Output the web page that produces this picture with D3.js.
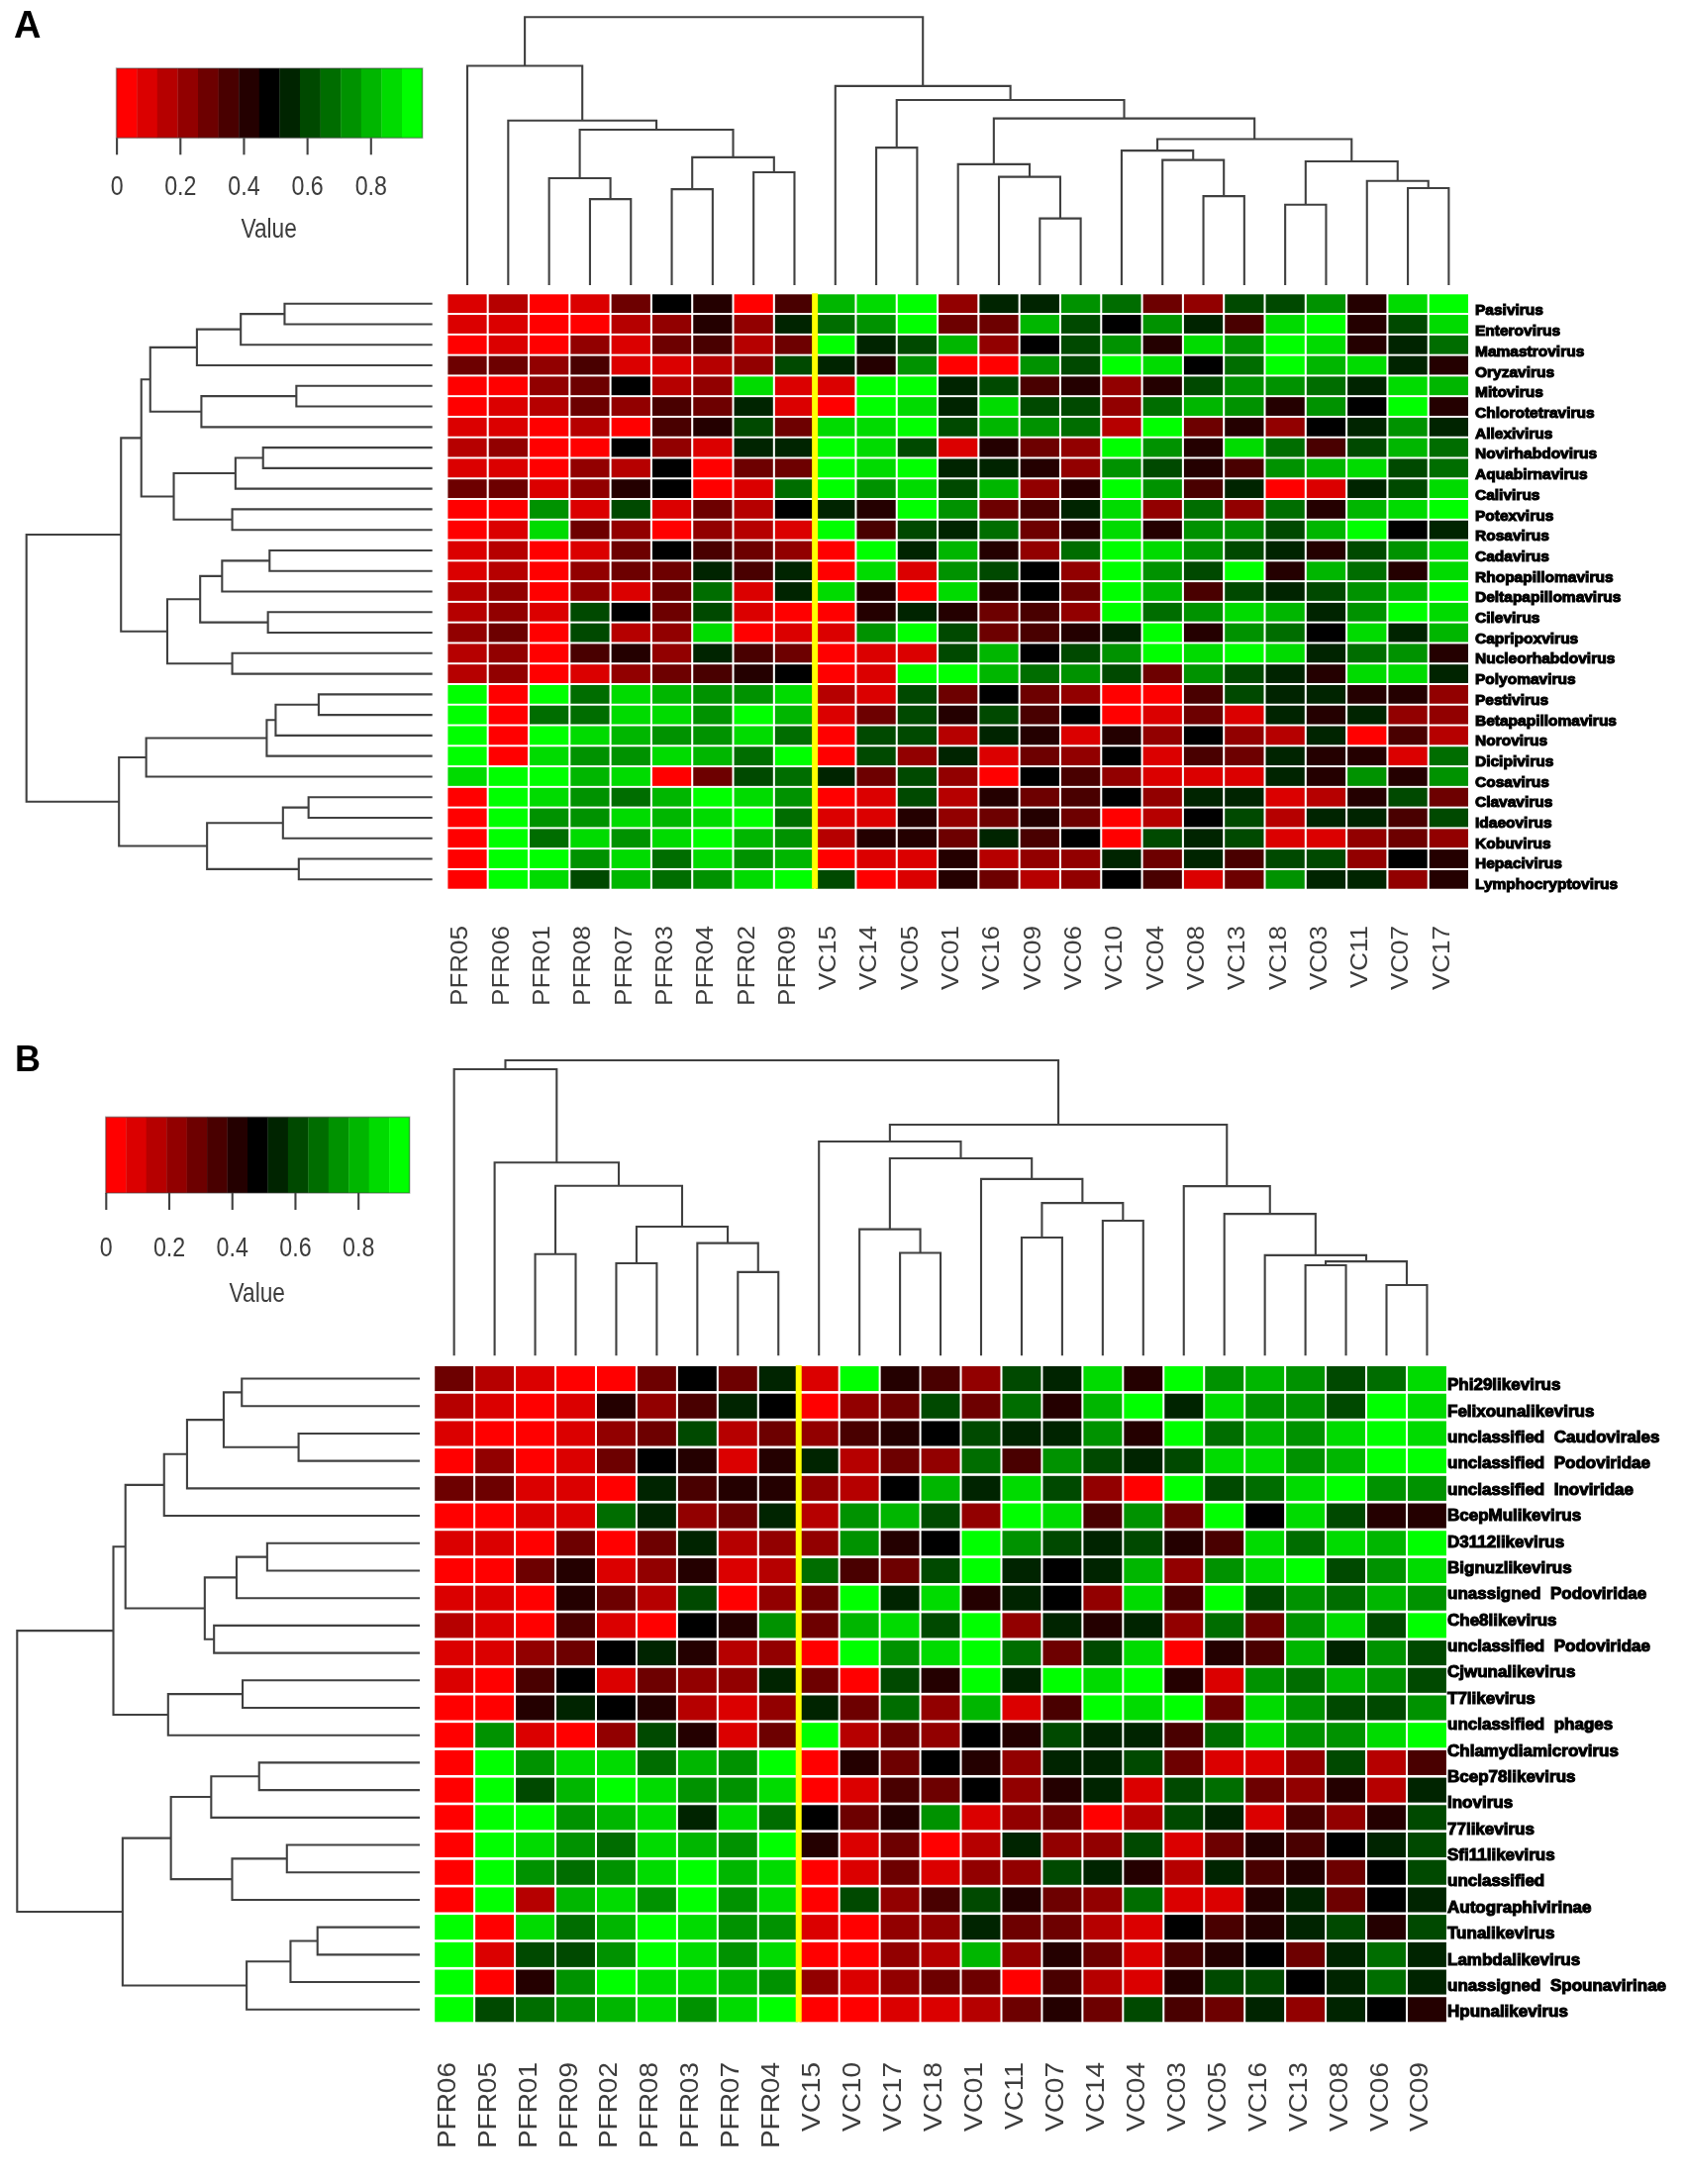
<!DOCTYPE html>
<html>
<head>
<meta charset="utf-8">
<script src="https://cdnjs.cloudflare.com/ajax/libs/d3/7.8.5/d3.min.js"></script>
<style>
    body { margin: 0; background: #fff; }
    svg { display: block; filter: blur(0.55px); }
</style>
</head>
<body>
<div id="main"></div>
<script>
// leaf marker for the nested dendrogram arrays: [height, left, right]
const _ = 0;

// ---- panel A ----
const colsA = ["PFR05", "PFR06", "PFR01", "PFR08", "PFR07", "PFR03", "PFR04", "PFR02", "PFR09",
    "VC15", "VC14", "VC05", "VC01", "VC16", "VC09", "VC06", "VC10", "VC04", "VC08", "VC13", "VC18", "VC03", "VC11", "VC07", "VC17"];

const rowLabelsA = ["Pasivirus", "Enterovirus", "Mamastrovirus", "Oryzavirus", "Mitovirus", "Chlorotetravirus", "Allexivirus",
    "Novirhabdovirus", "Aquabirnavirus", "Calivirus", "Potexvirus", "Rosavirus", "Cadavirus", "Rhopapillomavirus",
    "Deltapapillomavirus", "Cilevirus", "Capripoxvirus", "Nucleorhabdovirus", "Polyomavirus", "Pestivirus",
    "Betapapillomavirus", "Norovirus", "Dicipivirus", "Cosavirus", "Clavavirus", "Idaeovirus", "Kobuvirus", "Hepacivirus",
    "Lymphocryptovirus"];

// colour key bin (0 red ... 7 black ... 14 green) read for every cell
const heatA = [
    [1, 2, 0, 1, 4, 7, 6, 0, 5, 12, 13, 14, 3, 8, 8, 11, 10, 4, 3, 9, 9, 11, 6, 13, 14],
    [1, 1, 0, 0, 2, 3, 6, 3, 8, 10, 11, 14, 4, 4, 12, 9, 7, 11, 8, 5, 13, 14, 6, 9, 13],
    [0, 1, 0, 3, 1, 4, 5, 2, 4, 14, 8, 9, 12, 3, 7, 9, 11, 6, 13, 11, 14, 13, 6, 8, 10],
    [4, 4, 3, 5, 1, 1, 2, 3, 9, 8, 6, 11, 0, 0, 11, 9, 14, 13, 7, 10, 14, 12, 13, 8, 6],
    [0, 0, 3, 4, 7, 2, 3, 13, 1, 1, 14, 14, 8, 9, 5, 6, 3, 6, 9, 11, 11, 10, 8, 13, 12],
    [0, 1, 2, 4, 3, 5, 4, 8, 1, 0, 14, 13, 8, 13, 9, 9, 3, 10, 12, 11, 6, 11, 7, 14, 6],
    [1, 1, 0, 2, 0, 5, 6, 9, 4, 13, 13, 14, 9, 12, 11, 10, 2, 14, 4, 6, 3, 7, 8, 11, 8],
    [2, 3, 0, 0, 7, 3, 1, 8, 8, 14, 13, 9, 1, 6, 4, 3, 14, 11, 6, 13, 10, 5, 9, 12, 10],
    [1, 1, 0, 3, 2, 7, 0, 4, 4, 14, 13, 14, 8, 8, 6, 3, 11, 9, 6, 5, 11, 12, 13, 9, 10],
    [4, 4, 1, 3, 6, 7, 0, 1, 10, 14, 11, 13, 9, 12, 3, 6, 14, 11, 5, 8, 0, 1, 8, 9, 13],
    [0, 0, 11, 1, 9, 1, 4, 2, 7, 8, 6, 14, 11, 4, 5, 8, 13, 3, 10, 3, 10, 6, 12, 13, 14],
    [0, 1, 13, 4, 3, 0, 3, 2, 1, 14, 5, 9, 8, 10, 4, 6, 13, 6, 11, 11, 9, 12, 14, 7, 8],
    [1, 2, 0, 1, 4, 7, 5, 4, 3, 0, 14, 8, 12, 6, 3, 10, 14, 13, 11, 9, 8, 6, 9, 11, 13],
    [1, 2, 0, 3, 4, 4, 8, 5, 8, 0, 13, 1, 11, 9, 7, 3, 14, 11, 9, 14, 6, 12, 10, 6, 13],
    [2, 3, 0, 3, 1, 4, 10, 1, 8, 13, 6, 0, 13, 6, 7, 4, 14, 12, 5, 9, 8, 9, 11, 12, 14],
    [2, 3, 1, 9, 7, 4, 9, 1, 0, 0, 6, 8, 6, 4, 5, 3, 14, 10, 11, 13, 12, 8, 11, 14, 13],
    [3, 4, 0, 9, 2, 3, 13, 0, 1, 1, 11, 14, 9, 4, 5, 6, 8, 14, 6, 11, 10, 7, 13, 8, 12],
    [2, 3, 0, 5, 6, 3, 8, 5, 4, 0, 1, 1, 9, 12, 7, 9, 11, 14, 13, 14, 13, 8, 10, 11, 6],
    [2, 3, 0, 1, 3, 4, 5, 6, 7, 0, 1, 14, 14, 12, 10, 11, 9, 4, 11, 9, 8, 6, 13, 13, 8],
    [14, 0, 14, 10, 13, 12, 11, 11, 13, 2, 1, 9, 4, 7, 4, 3, 0, 0, 5, 9, 8, 8, 6, 6, 3],
    [14, 0, 10, 10, 13, 13, 11, 14, 12, 1, 4, 9, 6, 9, 5, 7, 0, 1, 4, 1, 8, 6, 8, 3, 3],
    [14, 0, 14, 13, 12, 11, 11, 13, 10, 0, 9, 9, 2, 8, 6, 1, 6, 3, 7, 3, 2, 8, 0, 5, 2],
    [14, 0, 13, 11, 11, 13, 12, 10, 14, 0, 9, 3, 8, 1, 4, 3, 7, 1, 5, 4, 8, 6, 6, 1, 10],
    [13, 14, 14, 12, 13, 0, 4, 9, 10, 8, 4, 9, 3, 0, 7, 5, 3, 1, 1, 1, 8, 6, 11, 6, 11],
    [0, 14, 13, 11, 10, 12, 14, 13, 11, 0, 1, 9, 2, 6, 4, 5, 7, 3, 8, 8, 1, 2, 6, 9, 4],
    [0, 14, 11, 11, 13, 12, 13, 14, 10, 1, 1, 6, 3, 4, 6, 4, 0, 2, 7, 9, 2, 8, 8, 5, 9],
    [0, 14, 10, 13, 11, 13, 14, 12, 11, 2, 6, 6, 4, 8, 5, 7, 0, 9, 8, 9, 1, 1, 3, 4, 3],
    [0, 14, 14, 11, 13, 10, 13, 11, 12, 0, 1, 1, 6, 2, 3, 3, 8, 4, 8, 5, 9, 9, 3, 7, 6],
    [0, 14, 13, 9, 12, 10, 11, 13, 14, 9, 0, 1, 6, 4, 2, 3, 7, 5, 1, 4, 11, 8, 8, 3, 6],
];

const colTreeA = [1.0,
    [.818, _, [.614, _, [.580,
        [.399, _, [.321, _, _]],
        [.477, [.358, _, _], [.421, _, _]]]]],
    [.743, _, [.691, [.513, _, _],
        [.622,
            [.451, _, [.404, _, [.249, _, _]]],
            [.545,
                [.502, _, [.467, _, [.332, _, _]]],
                [.462, [.300, _, _], [.389, _, [.362, _, _]]]]]]]];

const rowTreeA = [1.0,
    [.767,
        [.717,
            [.695,
                [.580, [.472, [.364, _, _], _], _],
                [.569, [.335, _, _], _]],
            [.637,
                [.485, [.417, _, _], _],
                [.493, _, _]]],
        [.653,
            [.572,
                [.518, [.401, _, _], _],
                [.405, _, _]],
            [.493, _, _]]],
    [.772,
        [.705,
            [.408, [.386, [.280, _, _], _], _],
            _],
        [.555,
            [.368, [.305, _, _], _],
            [.329, _, _]]]];

// ---- panel B ----
const colsB = ["PFR06", "PFR05", "PFR01", "PFR09", "PFR02", "PFR08", "PFR03", "PFR07", "PFR04",
    "VC15", "VC10", "VC17", "VC18", "VC01", "VC11", "VC07", "VC14", "VC04", "VC03", "VC05", "VC16", "VC13", "VC08", "VC06", "VC09"];

// 25 labels next to 24 rows, the label column does not line up with the rows in the figure
const rowLabelsB = ["Phi29likevirus", "Felixounalikevirus", "unclassified  Caudovirales", "unclassified  Podoviridae",
    "unclassified  Inoviridae", "BcepMulikevirus", "D3112likevirus", "Bignuzlikevirus", "unassigned  Podoviridae",
    "Che8likevirus", "unclassified  Podoviridae", "Cjwunalikevirus", "T7likevirus", "unclassified  phages",
    "Chlamydiamicrovirus", "Bcep78likevirus", "Inovirus", "77likevirus", "Sfi11likevirus", "unclassified",
    "Autographivirinae", "Tunalikevirus", "Lambdalikevirus", "unassigned  Spounavirinae", "Hpunalikevirus"];

const heatB = [
    [4, 2, 1, 0, 0, 4, 7, 4, 8, 1, 14, 6, 5, 3, 9, 8, 13, 6, 14, 11, 12, 11, 9, 10, 13],
    [2, 1, 0, 1, 6, 3, 5, 8, 7, 0, 3, 4, 9, 4, 10, 6, 12, 14, 8, 13, 11, 11, 9, 14, 13],
    [1, 0, 0, 1, 3, 4, 9, 2, 4, 3, 5, 6, 7, 9, 8, 8, 11, 6, 14, 10, 12, 11, 13, 14, 13],
    [0, 3, 0, 1, 4, 7, 6, 1, 6, 8, 2, 4, 3, 10, 5, 11, 9, 8, 9, 13, 13, 11, 12, 14, 14],
    [4, 4, 1, 1, 0, 8, 5, 6, 6, 3, 2, 7, 12, 8, 13, 9, 3, 0, 14, 9, 10, 13, 14, 11, 11],
    [0, 0, 1, 1, 10, 8, 3, 4, 8, 2, 11, 12, 9, 3, 14, 13, 5, 11, 4, 14, 7, 13, 9, 6, 6],
    [1, 1, 0, 4, 0, 4, 8, 2, 3, 3, 11, 6, 7, 14, 11, 9, 8, 9, 6, 5, 13, 10, 13, 12, 14],
    [0, 0, 4, 6, 1, 3, 6, 1, 2, 10, 5, 4, 9, 14, 8, 7, 8, 12, 3, 11, 13, 14, 9, 11, 13],
    [1, 1, 0, 6, 4, 2, 9, 0, 3, 4, 14, 8, 13, 6, 8, 7, 3, 13, 5, 14, 9, 11, 10, 12, 11],
    [2, 1, 0, 5, 1, 0, 7, 6, 11, 4, 12, 13, 9, 14, 3, 8, 6, 8, 3, 10, 4, 11, 13, 9, 14],
    [1, 1, 3, 4, 7, 8, 6, 2, 3, 0, 14, 11, 13, 14, 10, 4, 9, 13, 0, 6, 5, 12, 8, 11, 9],
    [1, 0, 5, 7, 1, 4, 3, 3, 8, 4, 0, 9, 6, 14, 8, 14, 13, 14, 6, 1, 11, 10, 12, 11, 9],
    [0, 0, 6, 8, 7, 6, 2, 1, 3, 8, 4, 10, 3, 12, 1, 5, 14, 13, 14, 4, 13, 11, 9, 9, 11],
    [0, 11, 1, 0, 3, 9, 6, 1, 4, 14, 2, 4, 3, 7, 6, 9, 8, 8, 5, 10, 13, 11, 11, 13, 14],
    [0, 14, 11, 13, 13, 10, 12, 11, 14, 0, 6, 4, 7, 6, 3, 8, 8, 9, 4, 1, 1, 3, 9, 2, 5],
    [0, 14, 9, 12, 14, 13, 11, 11, 13, 0, 1, 5, 4, 7, 3, 6, 8, 1, 9, 10, 4, 3, 6, 2, 8],
    [0, 14, 14, 11, 12, 13, 8, 13, 10, 7, 4, 6, 11, 1, 3, 4, 0, 2, 9, 8, 1, 5, 3, 6, 9],
    [0, 14, 13, 11, 10, 13, 12, 11, 14, 6, 1, 4, 0, 2, 8, 3, 3, 9, 1, 4, 6, 5, 7, 8, 9],
    [0, 14, 11, 10, 11, 13, 14, 12, 13, 0, 1, 4, 1, 3, 3, 9, 8, 6, 2, 8, 5, 6, 4, 7, 9],
    [0, 14, 2, 12, 13, 11, 14, 11, 13, 0, 9, 3, 5, 9, 6, 4, 3, 10, 1, 1, 6, 8, 4, 7, 8],
    [14, 0, 13, 10, 12, 14, 13, 11, 11, 1, 0, 3, 3, 8, 4, 4, 2, 1, 7, 5, 6, 8, 9, 6, 9],
    [14, 1, 9, 9, 11, 14, 13, 11, 13, 0, 0, 3, 2, 12, 3, 6, 4, 1, 5, 6, 7, 4, 8, 10, 8],
    [14, 0, 6, 11, 14, 13, 13, 12, 11, 3, 1, 3, 4, 4, 0, 5, 2, 1, 6, 9, 9, 7, 8, 10, 8],
    [14, 9, 10, 11, 12, 13, 11, 13, 14, 0, 0, 1, 1, 2, 4, 6, 4, 9, 5, 4, 8, 3, 8, 7, 6],
];

const colTreeB = [1.0,
    [.970, _, [.654, _, [.575,
        [.344, _, _],
        [.437, [.313, _, _], [.381, _, [.283, _, _]]]]]],
    [.782,
        [.725, _, [.668,
            [.428, _, [.348, _, _]],
            [.598, _, [.517, [.400, _, _], [.457, _, _]]]]],
        [.574, _, [.480, _, [.340, _, [.319, [.306, _, _], [.239, _, _]]]]]]];

const rowTreeB = [1.0,
    [.761,
        [.731,
            [.635, [.578, [.487, [.442, _, _], [.301, _, _]], _], _],
            [.534, [.455, [.379, _, _], _], [.511, _, _]]],
        [.625, [.440, _, _], _]],
    [.738,
        [.618,
            [.518, [.399, _, _], _],
            [.466, [.330, _, _], _]],
        [.430, [.321, [.254, _, _], _], _]]];

// ---- colour key ----
const keyTicks = [0, 0.2, 0.4, 0.6, 0.8];
const keyMax = 0.963;
const keyBins = d3.range(15);
const keyColors = d3.quantize(d3.piecewise(d3.interpolateRgb, ["#ff0000", "#000000", "#00ff00"]), 15);

const ctx = {
    svg_w: 1701,
    svg_h: 2206,
    line_color: "#404040",
    line_w: 2.1,
    text_color: "#3c3c3c",
    font: "'Liberation Sans', Arial, sans-serif",
};

const panelA = {
    letter: "A", letter_x: 14, letter_y: 38, letter_size: 38,
    cols: colsA, rows: rowLabelsA, heat: heatA, colTree: colTreeA, rowTree: rowTreeA,
    x0: 452.4, x1: 1483, y0: 297.3, y1: 897.7,
    col_leaf: 288, col_top: 17.3, row_leaf: 436.7, row_root: 26.7,
    col_label_y: 935, col_label_size: 26,
    row_label_x: 1490, row_label_size: 15.5, row_label_y0: 313, row_label_y1: 892.7,
    key_x0: 117.6, key_x1: 426.6, key_y0: 69, key_y1: 139.3,
    key_label_y: 197, value_y: 240,
};

const panelB = {
    letter: "B", letter_x: 15, letter_y: 1082, letter_size: 36,
    cols: colsB, rows: rowLabelsB, heat: heatB, colTree: colTreeB, rowTree: rowTreeB,
    x0: 439.2, x1: 1460.9, y0: 1380, y1: 2042.3,
    col_leaf: 1369.3, col_top: 1071, row_leaf: 424, row_root: 17.3,
    col_label_y: 2083, col_label_size: 28,
    row_label_x: 1462, row_label_size: 17, row_label_y0: 1398.3, row_label_y1: 2031.3,
    key_x0: 106.8, key_x1: 413.6, key_y0: 1128.3, key_y1: 1205,
    key_label_y: 1269, value_y: 1315,
};


function createViz() {
    let svg = d3.select("#main").append("svg")
        .attr("width", ctx.svg_w)
        .attr("height", ctx.svg_h)
        .style("font-family", ctx.font);

    svg.append("rect")
        .attr("width", ctx.svg_w)
        .attr("height", ctx.svg_h)
        .attr("fill", "#fff");

    createPanel(svg, panelA);
    createPanel(svg, panelB);
}


function createPanel(svg, p) {
    let g = svg.append("g").attr("class", "panel");

    g.append("text")
        .attr("x", p.letter_x)
        .attr("y", p.letter_y)
        .style("font-size", p.letter_size + "px")
        .style("font-weight", "bold")
        .attr("fill", "#000")
        .text(p.letter);

    let x = d3.scaleBand()
        .domain(d3.range(p.cols.length))
        .range([p.x0, p.x1])
        .paddingInner(0.05);

    let y = d3.scaleBand()
        .domain(d3.range(p.heat.length))
        .range([p.y0, p.y1])
        .paddingInner(0.095);

    createHeatmap(g, p, x, y);
    createDendrogram(g, p.colTree, x, d3.scaleLinear([0, 1], [p.col_leaf, p.col_top]), true);
    createDendrogram(g, p.rowTree, y, d3.scaleLinear([0, 1], [p.row_leaf, p.row_root]), false);
    createColLabels(g, p, x);
    createRowLabels(g, p);
    createKey(g, p);
}


function createHeatmap(g, p, x, y) {
    let color = d3.scaleOrdinal(keyBins, keyColors);

    g.append("g").attr("class", "cells")
        .selectAll("g")
        .data(p.heat)
        .enter().append("g")
        .attr("transform", (d, i) => "translate(0," + y(i) + ")")
        .selectAll("rect")
        .data(d => d)
        .enter().append("rect")
        .attr("x", (d, i) => x(i))
        .attr("width", x.bandwidth())
        .attr("height", y.bandwidth())
        .attr("fill", d => color(d));

    // yellow divider between the PFR and the VC samples
    let firstVC = p.cols.findIndex(d => d.startsWith("VC"));
    let gap = x.step() - x.bandwidth();
    g.append("rect")
        .attr("x", x(firstVC) - gap / 2 - 3)
        .attr("y", p.y0 - 1)
        .attr("width", 6)
        .attr("height", p.y1 - p.y0 + 1)
        .attr("fill", "#ffff00");
}


// walk the nested [height, left, right] arrays, leaves are taken in order
function treeLinks(tree, pos) {
    let links = [];
    let leaf = 0;

    function walk(node) {
        if (node === _) {
            let c = pos(leaf);
            leaf += 1;
            return { c: c, h: 0 };
        }
        let a = walk(node[1]);
        let b = walk(node[2]);
        links.push({ a: a, b: b, h: node[0] });
        return { c: (a.c + b.c) / 2, h: node[0] };
    }
    walk(tree);
    return links;
}


function createDendrogram(g, tree, band, hScale, vertical) {
    let pos = i => band(i) + band.bandwidth() / 2;
    let line = d3.line()
        .x(d => vertical ? d[0] : hScale(d[1]))
        .y(d => vertical ? hScale(d[1]) : d[0]);

    g.append("g").attr("class", "dendro")
        .selectAll("path")
        .data(treeLinks(tree, pos))
        .enter().append("path")
        .attr("d", d => line([[d.a.c, d.a.h], [d.a.c, d.h], [d.b.c, d.h], [d.b.c, d.b.h]]))
        .attr("fill", "none")
        .attr("stroke", ctx.line_color)
        .attr("stroke-width", ctx.line_w);
}


function createColLabels(g, p, x) {
    let axis = d3.axisBottom(x)
        .tickSize(0)
        .tickFormat(i => p.cols[i]);

    let ax = g.append("g")
        .attr("transform", "translate(0," + p.col_label_y + ")")
        .call(axis);
    ax.select(".domain").remove();
    ax.selectAll("text")
        .attr("x", 0)
        .attr("y", 0)
        .attr("dy", "0.35em")
        .attr("text-anchor", "end")
        .attr("transform", "translate(-8,0) rotate(-90) scale(1,0.92)")
        .attr("fill", ctx.text_color)
        .style("font-size", p.col_label_size + "px")
        .style("font-family", ctx.font);
}


function createRowLabels(g, p) {
    let y = d3.scalePoint()
        .domain(p.rows.map((d, i) => i))
        .range([p.row_label_y0, p.row_label_y1]);

    let axis = d3.axisRight(y)
        .tickSize(0)
        .tickPadding(0)
        .tickFormat(i => p.rows[i]);

    let ax = g.append("g")
        .attr("transform", "translate(" + p.row_label_x + ",0)")
        .call(axis);
    ax.select(".domain").remove();
    ax.selectAll("text")
        .attr("fill", "#000")
        .attr("stroke", "#000")
        .attr("stroke-width", 1.1)
        .style("font-size", p.row_label_size + "px")
        .style("font-weight", "bold")
        .style("font-family", ctx.font)
        .style("white-space", "pre");
}


function createKey(g, p) {
    let k = d3.scaleLinear([0, keyMax], [p.key_x0, p.key_x1]);
    let binW = keyMax / keyBins.length;

    g.append("g").attr("class", "key")
        .selectAll("rect")
        .data(keyBins)
        .enter().append("rect")
        .attr("x", d => k(d * binW))
        .attr("y", p.key_y0)
        .attr("width", k(binW) - k(0) + 0.3)
        .attr("height", p.key_y1 - p.key_y0)
        .attr("fill", d => keyColors[d]);

    // faint box round the key
    g.append("rect")
        .attr("x", p.key_x0)
        .attr("y", p.key_y0)
        .attr("width", p.key_x1 - p.key_x0)
        .attr("height", p.key_y1 - p.key_y0)
        .attr("fill", "none")
        .attr("stroke", ctx.line_color)
        .attr("stroke-opacity", 0.45)
        .attr("stroke-width", 1.6);

    let axis = d3.axisBottom(k)
        .tickValues(keyTicks)
        .tickSize(17)
        .tickFormat(d => d);

    let ax = g.append("g")
        .attr("transform", "translate(0," + p.key_y1 + ")")
        .call(axis);
    ax.select(".domain").remove();
    ax.selectAll("line")
        .attr("stroke", ctx.line_color)
        .attr("stroke-width", ctx.line_w);
    ax.selectAll("text")
        .attr("y", 0)
        .attr("dy", 0)
        .attr("transform", "translate(0," + (p.key_label_y - p.key_y1) + ") scale(0.86,1)")
        .attr("fill", ctx.text_color)
        .style("font-size", "27px")
        .style("font-family", ctx.font);

    g.append("text")
        .attr("text-anchor", "middle")
        .attr("transform", "translate(" + k(0.48) + "," + p.value_y + ") scale(0.84,1)")
        .attr("fill", ctx.text_color)
        .style("font-size", "27px")
        .text("Value");
}

createViz();
</script>
</body>
</html>
